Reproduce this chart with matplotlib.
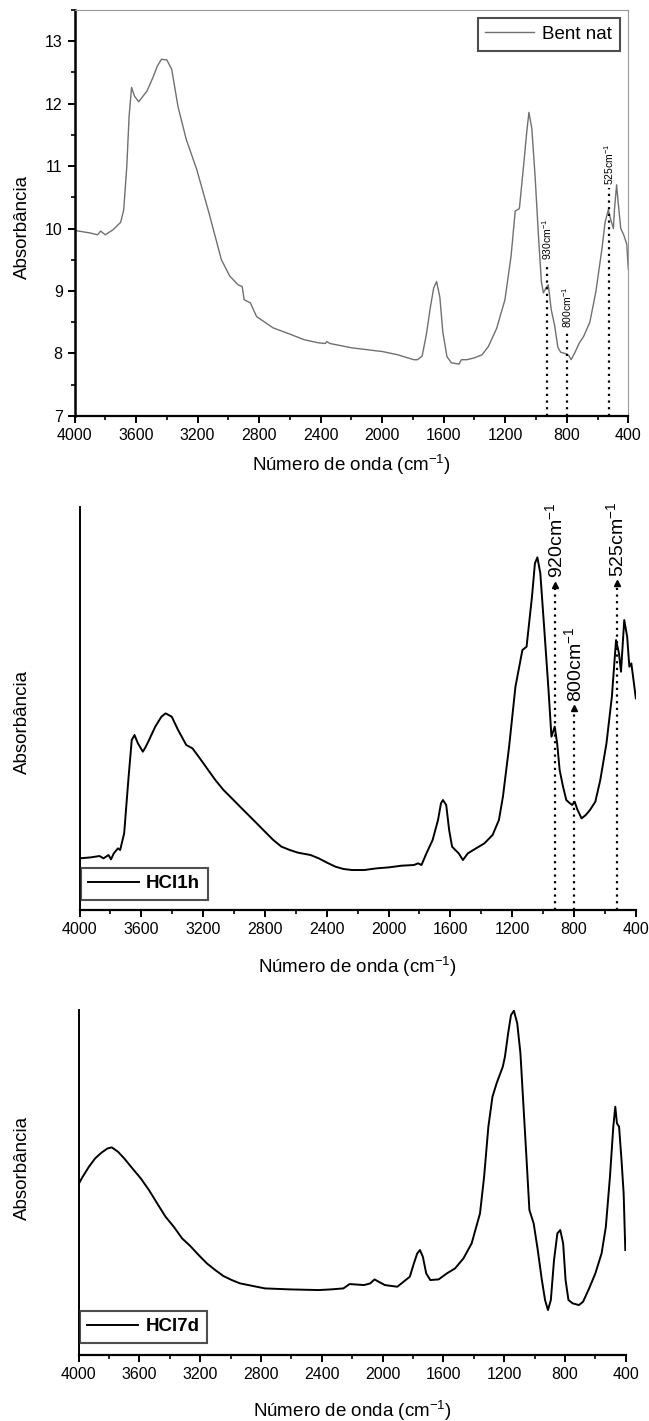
# FTIR spectra - Bent nat, HCl1h, HCl7d
import matplotlib.pyplot as plt
from matplotlib.ticker import MultipleLocator

plt.rcParams['font.family'] = ['Liberation Sans', 'DejaVu Sans']
plt.rcParams['mathtext.fontset'] = 'custom'
plt.rcParams['mathtext.rm'] = 'Liberation Sans'
plt.rcParams['mathtext.it'] = 'Liberation Sans:italic'
plt.rcParams['mathtext.bf'] = 'Liberation Sans:bold'

# ---------- DATA ----------
bent_wn = [4000, 3900, 3850, 3830, 3800, 3750, 3700, 3680, 3660, 3645, 3629, 3610, 3583,
           3529, 3490, 3462, 3435, 3400, 3368, 3327, 3274, 3206, 3126, 3045, 2991, 2937,
           2910, 2897, 2857, 2816, 2709, 2600, 2507, 2413, 2370, 2359, 2340, 2300, 2197,
           1996, 1900, 1861, 1794, 1770, 1740, 1713, 1686, 1665, 1646, 1625, 1606, 1579,
           1550, 1525, 1500, 1485, 1471, 1450, 1400, 1350, 1310, 1256, 1202, 1162, 1135,
           1108, 1081, 1060, 1046, 1027, 1006, 982, 965, 952, 935, 920, 901, 879, 858,
           840, 812, 795, 785, 772, 750, 718, 691, 650, 610, 570, 551, 530, 515, 497, 490,
           476, 465, 449, 430, 410, 400]
bent_abs = [9.97, 9.93, 9.90, 9.96, 9.90, 9.98, 10.1, 10.3, 11.0, 11.8, 12.26, 12.12, 12.03,
            12.2, 12.42, 12.6, 12.71, 12.7, 12.55, 11.95, 11.43, 10.95, 10.25, 9.5, 9.24, 9.1,
            9.07, 8.86, 8.81, 8.59, 8.41, 8.31, 8.22, 8.17, 8.16, 8.19, 8.16, 8.14, 8.09,
            8.03, 7.98, 7.95, 7.9, 7.9, 7.96, 8.3, 8.75, 9.05, 9.15, 8.9, 8.35, 7.95,
            7.85, 7.84, 7.83, 7.9, 7.9, 7.9, 7.93, 7.98, 8.11, 8.4, 8.86, 9.56, 10.28,
            10.32, 11.0, 11.55, 11.86, 11.6, 10.84, 9.8, 9.15, 8.97, 9.05, 9.1, 8.7, 8.45, 8.1,
            8.02, 8.0, 7.98, 7.96, 7.9, 8.0, 8.17, 8.27, 8.5, 9.0, 9.7, 10.1, 10.3, 10.15, 10.0,
            10.3, 10.7, 10.4, 10.0, 9.9, 9.75, 9.35]

hcl1h_wn = [4000, 3925, 3871, 3845, 3812, 3796, 3778, 3751, 3737, 3711, 3684, 3662, 3644,
            3622, 3590, 3571, 3550, 3510, 3470, 3443, 3403, 3362, 3309, 3269, 3229, 3175,
            3121, 3068, 3014, 2961, 2907, 2853, 2800, 2746, 2693, 2639, 2586, 2505, 2452,
            2398, 2344, 2291, 2237, 2157, 2077, 1996, 1916, 1836, 1809, 1787, 1755, 1715,
            1680, 1661, 1648, 1627, 1608, 1589, 1568, 1546, 1519, 1487, 1434, 1380, 1327,
            1286, 1260, 1220, 1179, 1134, 1107, 1072, 1053, 1037, 1018, 992, 965, 946, 925,
            909, 893, 871, 850, 831, 812, 796, 777, 751, 724, 697, 662, 630, 590, 555, 528,
            509, 496, 475, 456, 442, 429, 415, 400]
hcl1h_abs = [0.155, 0.158, 0.162, 0.155, 0.165, 0.152, 0.170, 0.185, 0.180, 0.230, 0.390,
             0.510, 0.525, 0.500, 0.475, 0.490, 0.510, 0.550, 0.580, 0.590, 0.580, 0.540,
             0.495, 0.485, 0.460, 0.425, 0.390, 0.360, 0.335, 0.310, 0.285, 0.260, 0.235,
             0.210, 0.190, 0.180, 0.172, 0.165, 0.155, 0.142, 0.130, 0.123, 0.120, 0.120,
             0.125, 0.128, 0.133, 0.135, 0.140, 0.135, 0.170, 0.210, 0.270, 0.320, 0.330,
             0.315, 0.240, 0.190, 0.180, 0.170, 0.150, 0.170, 0.185, 0.200, 0.225, 0.270,
             0.340, 0.490, 0.670, 0.780, 0.790, 0.940, 1.040, 1.058, 1.010, 0.840, 0.660,
             0.520, 0.550, 0.500, 0.420, 0.370, 0.330, 0.322, 0.315, 0.325, 0.300, 0.275,
             0.285, 0.300, 0.325, 0.390, 0.500, 0.640, 0.810, 0.770, 0.715, 0.870, 0.820,
             0.730, 0.740, 0.690, 0.635]

hcl7d_wn = [3995, 3973, 3932, 3891, 3850, 3809, 3782, 3741, 3700, 3646, 3591, 3537, 3483,
            3428, 3374, 3319, 3265, 3210, 3156, 3101, 3047, 2992, 2938, 2883, 2775, 2611,
            2421, 2339, 2258, 2217, 2122, 2081, 2053, 2026, 1985, 1903, 1862, 1821, 1794,
            1772, 1754, 1735, 1713, 1686, 1631, 1577, 1523, 1468, 1414, 1359, 1332, 1304,
            1277, 1250, 1209, 1195, 1174, 1155, 1136, 1114, 1093, 1074, 1055, 1034, 1006,
            979, 952, 931, 912, 893, 872, 850, 831, 812, 796, 777, 749, 708, 681, 641, 600,
            559, 531, 504, 482, 469, 458, 444, 428, 414, 403]
hcl7d_abs = [0.517, 0.535, 0.565, 0.590, 0.607, 0.620, 0.623, 0.610, 0.590, 0.560, 0.530,
             0.495, 0.455, 0.415, 0.385, 0.350, 0.327, 0.300, 0.275, 0.255, 0.237, 0.225,
             0.215, 0.210, 0.200, 0.197, 0.195, 0.197, 0.200, 0.213, 0.210, 0.215, 0.227,
             0.220, 0.210, 0.205, 0.220, 0.235, 0.275, 0.305, 0.315, 0.295, 0.245, 0.225,
             0.227, 0.245, 0.260, 0.290, 0.335, 0.425, 0.535, 0.685, 0.775, 0.815, 0.865,
             0.895, 0.965, 1.020, 1.033, 0.995, 0.905, 0.755, 0.605, 0.435, 0.395, 0.315,
             0.225, 0.165, 0.135, 0.165, 0.285, 0.365, 0.375, 0.335, 0.225, 0.165, 0.155,
             0.150, 0.160, 0.200, 0.245, 0.305, 0.385, 0.535, 0.685, 0.745, 0.695, 0.685,
             0.585, 0.485, 0.315]

bent_marks = [930, 800, 525]
bent_mark_top = [9.45, 8.35, 10.65]
hcl1h_marks = [920, 800, 525]
hcl1h_mark_top = [0.975, 0.605, 0.980]

XLABEL = "Número de onda (cm$^{-1}$)"
LABEL_FS = 13.5
TICK_FS = 11.5


def style_xaxis(ax):
    ax.set_xlim(4000, 400)
    ax.xaxis.set_major_locator(MultipleLocator(400))
    ax.xaxis.set_minor_locator(MultipleLocator(200))
    ax.tick_params(axis="x", which="major", direction="out", length=5, width=1.4,
                   labelsize=TICK_FS)
    ax.tick_params(axis="x", which="minor", direction="out", length=3, width=1.2)
    ax.spines["bottom"].set_linewidth(1.6)
    ax.spines["left"].set_linewidth(1.4)


def style_legend(leg):
    leg.get_frame().set_edgecolor("#222222")
    leg.get_frame().set_linewidth(1.5)


fig = plt.figure(figsize=(6.49, 14.21), dpi=100)

# ---------- PANEL 1: Bent nat ----------
ax1 = fig.add_axes([0.1148, 0.7073, 0.8533, 0.2857])
ax1.plot(bent_wn, bent_abs, color="#707070", lw=1.0, label="Bent nat")
style_xaxis(ax1)
ax1.set_ylim(7, 13.5)
ax1.yaxis.set_major_locator(MultipleLocator(1))
ax1.yaxis.set_minor_locator(MultipleLocator(0.5))
ax1.tick_params(axis="y", which="major", direction="out", length=5, width=1.4,
                labelsize=TICK_FS)
ax1.tick_params(axis="y", which="minor", direction="out", length=3, width=1.2)
ax1.spines["left"].set_linewidth(1.8)
ax1.spines["top"].set_color("#999999")
ax1.spines["right"].set_color("#999999")
for wn, top in zip(bent_marks, bent_mark_top):
    ax1.plot([wn, wn], [7, top], color="black", lw=1.6, ls=(0, (1, 2)))
    ax1.text(wn, top + 0.05, f"{wn}cm$^{{-1}}$", rotation=90, fontsize=7.5,
             ha="center", va="bottom")
ax1.set_xlabel(XLABEL, fontsize=LABEL_FS)
ax1.set_ylabel("Absorbância", fontsize=LABEL_FS)
ax1.xaxis.set_label_coords(0.5, -0.091)
ax1.yaxis.set_label_coords(-0.0785, 0.466)
leg = ax1.legend(loc="upper right", fontsize=LABEL_FS, frameon=True, fancybox=False,
                 handlelength=2.6, handletextpad=0.45, borderaxespad=0.45)
style_legend(leg)

# ---------- PANEL 2: HCl1h ----------
ax2 = fig.add_axes([0.1225, 0.3596, 0.8572, 0.2838])
ax2.plot(hcl1h_wn, hcl1h_abs, color="black", lw=1.4, label="HCl1h")
style_xaxis(ax2)
ax2.set_ylim(0, 1.21)
ax2.set_yticks([])
ax2.spines["top"].set_visible(False)
ax2.spines["right"].set_visible(False)
for wn, top in zip(hcl1h_marks, hcl1h_mark_top):
    ax2.plot([wn, wn], [0, top], color="black", lw=1.6, ls=(0, (1, 2)))
    ax2.plot([wn], [top], marker="^", color="black", ms=4)
    ax2.text(wn, top + 0.02, f"{wn}cm$^{{-1}}$", rotation=90, fontsize=14,
             ha="center", va="bottom")
ax2.set_xlabel(XLABEL, fontsize=LABEL_FS)
ax2.set_ylabel("Absorbância", fontsize=LABEL_FS)
ax2.xaxis.set_label_coords(0.5, -0.112)
ax2.yaxis.set_label_coords(-0.087, 0.466)
leg = ax2.legend(loc="lower left", bbox_to_anchor=(0.002, 0.025),
                 prop={"weight": "bold", "size": 13.5}, frameon=True, fancybox=False,
                 handlelength=2.7, handletextpad=0.4, borderaxespad=0.0, borderpad=0.4)
style_legend(leg)

# ---------- PANEL 3: HCl7d ----------
ax3 = fig.add_axes([0.1211, 0.0464, 0.8431, 0.2428])
ax3.plot(hcl7d_wn, hcl7d_abs, color="black", lw=1.4, label="HCl7d")
style_xaxis(ax3)
ax3.set_ylim(0, 1.035)
ax3.set_yticks([])
ax3.spines["top"].set_visible(False)
ax3.spines["right"].set_visible(False)
ax3.set_xlabel(XLABEL, fontsize=LABEL_FS)
ax3.set_ylabel("Absorbância", fontsize=LABEL_FS)
ax3.xaxis.set_label_coords(0.5, -0.128)
ax3.yaxis.set_label_coords(-0.087, 0.542)
leg = ax3.legend(loc="lower left", bbox_to_anchor=(0.002, 0.035),
                 prop={"weight": "bold", "size": 13.5}, frameon=True, fancybox=False,
                 handlelength=2.7, handletextpad=0.4, borderaxespad=0.0, borderpad=0.4)
style_legend(leg)

fig.savefig("out.png", dpi=100)
